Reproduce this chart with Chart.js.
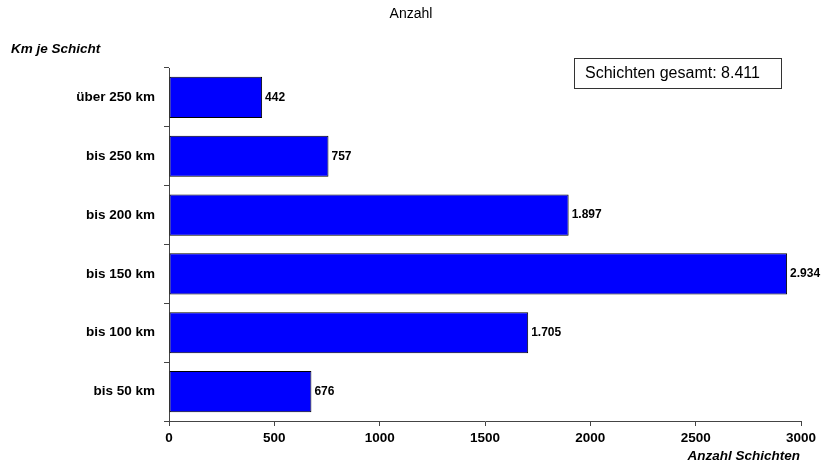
<!DOCTYPE html>
<html>
<head>
<meta charset="utf-8">
<script src="https://cdn.jsdelivr.net/npm/chart.js@4"></script>
<style>
  html, body { margin: 0; padding: 0; background: #fff; }
  #wrap { width: 822px; height: 472px; position: relative; }
</style>
</head>
<body>
<div id="wrap"><canvas id="c" width="822" height="472"></canvas></div>
<script>
// Kilometre bands per shift, top to bottom
const categories = ['über 250 km', 'bis 250 km', 'bis 200 km', 'bis 150 km', 'bis 100 km', 'bis 50 km'];
// Number of shifts per band
const shiftCounts = [442, 757, 1897, 2934, 1705, 676];
// X axis ticks
const xTicks = [0, 500, 1000, 1500, 2000, 2500, 3000];

const chartTitle = 'Anzahl';
const yAxisTitle = 'Km je Schicht';
const xAxisTitle = 'Anzahl Schichten';
const totalLabel = 'Schichten gesamt: 8.411';

const FONT = '"Liberation Sans", Arial, sans-serif';

function fmtDe(v) {
  return String(v).replace(/\B(?=(\d{3})+(?!\d))/g, '.');
}

const annotations = {
  id: 'annotations',
  afterDatasetsDraw(chart) {
    const ctx = chart.ctx;
    ctx.save();
    // value labels next to each bar
    const meta = chart.getDatasetMeta(0);
    ctx.fillStyle = '#000';
    ctx.font = 'bold 12px ' + FONT;
    ctx.textAlign = 'left';
    ctx.textBaseline = 'middle';
    meta.data.forEach((bar, i) => {
      ctx.fillText(fmtDe(shiftCounts[i]), bar.x + 3, bar.y);
    });

    // title
    ctx.font = '14px ' + FONT;
    ctx.textAlign = 'center';
    ctx.fillText(chartTitle, 411, 14);

    // axis titles
    ctx.font = 'italic bold 13.5px ' + FONT;
    ctx.textAlign = 'left';
    ctx.fillText(yAxisTitle, 11, 49);
    ctx.textAlign = 'right';
    ctx.fillText(xAxisTitle, 800, 456);

    // total box
    ctx.fillStyle = '#fff';
    ctx.fillRect(574.5, 58.5, 207, 30);
    ctx.strokeStyle = '#333';
    ctx.lineWidth = 1;
    ctx.strokeRect(574.5, 58.5, 207, 30);
    ctx.fillStyle = '#000';
    ctx.font = '16px ' + FONT;
    ctx.textAlign = 'left';
    ctx.fillText(totalLabel, 585, 74);
    ctx.restore();
  }
};

new Chart(document.getElementById('c'), {
  type: 'bar',
  data: {
    labels: categories,
    datasets: [{
      data: shiftCounts,
      backgroundColor: '#0000ff',
      borderColor: '#000',
      borderWidth: 1,
      borderSkipped: false,
      categoryPercentage: 1,
      barPercentage: 0.7
    }]
  },
  options: {
    indexAxis: 'y',
    responsive: false,
    animation: false,
    layout: { padding: { top: 68, right: 21, left: 0, bottom: 0 } },
    plugins: { legend: { display: false }, tooltip: { enabled: false } },
    scales: {
      x: {
        min: 0, max: 3000,
        afterBuildTicks(scale) { scale.ticks = xTicks.map(v => ({ value: v })); },
        afterFit(scale) { scale.height = 51; },
        grid: { drawOnChartArea: false, drawTicks: true, tickLength: 5, color: '#444' },
        border: { display: true, color: '#444', width: 1 },
        ticks: {
          color: '#000', font: { family: FONT, size: 13.5, weight: 'bold' }, padding: 4, maxRotation: 0,
          callback: v => String(v)
        }
      },
      y: {
        afterFit(scale) { scale.width = 169; },
        grid: { offset: true, drawOnChartArea: false, drawTicks: true, tickLength: 5, color: '#444' },
        border: { display: true, color: '#444', width: 1 },
        ticks: { color: '#000', font: { family: FONT, size: 13.5, weight: 'bold' }, padding: 9 }
      }
    }
  },
  plugins: [annotations]
});
</script>
</body>
</html>
